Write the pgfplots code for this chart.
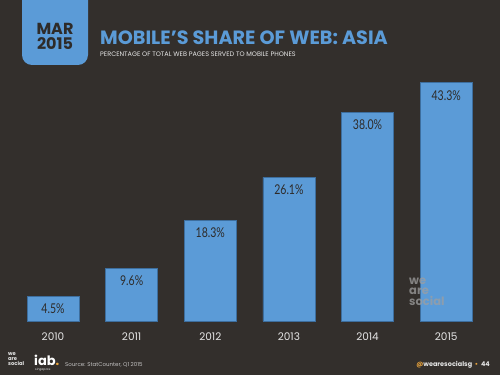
\documentclass[border=0pt]{standalone}
\usepackage{pgfplots}
\pgfplotsset{compat=1.18}
\usepackage{fontspec}
\setmainfont{Poppins}
\newfontfamily\cond[FakeStretch=0.78]{Lato}
\definecolor{bg}{HTML}{332F2C}
\definecolor{barblue}{HTML}{5B9BD7}
\definecolor{edge}{HTML}{3D6E9E}
\definecolor{ink}{HTML}{2E2B29}
\definecolor{orng}{HTML}{E8A33C}
\definecolor{lt}{HTML}{E6E6E6}
\begin{document}
\begin{tikzpicture}
\useasboundingbox (0,0) rectangle (500pt,375pt);
\fill[bg] (0,0) rectangle (500pt,375pt);
\fill[barblue,rounded corners=10pt] (22pt,395pt) rectangle (88pt,310pt);
\node[text=ink, font=\bfseries\fontsize{16}{15}\selectfont, align=center, inner sep=0] at (55pt,338.5pt) {MAR\\2015};
\node[anchor=base west, text=barblue, font=\bfseries\fontsize{19.2}{20}\selectfont, inner sep=0] at (100pt,330pt) {MOBILE’S SHARE OF WEB: ASIA};
\node[anchor=base west, text=lt, font=\fontsize{6.5}{7}\selectfont, inner sep=0] at (100pt,318.5pt) {PERCENTAGE OF TOTAL WEB PAGES SERVED TO MOBILE PHONES};
\begin{axis}[at={(13.7pt,54pt)}, anchor=south west, scale only axis,
  width=471.8pt, height=275pt,
  xmin=-0.5, xmax=5.5, ymin=0, ymax=50,
  axis line style={draw=none}, major tick length=0pt,
  ymajorticks=false, xtick=data,
  xticklabels={2010,2011,2012,2013,2014,2015},
  xticklabel style={text=lt, font=\fontsize{10.5}{12}\selectfont, yshift=-8.5pt},
  ybar, bar width=52pt,
  /pgf/number format/assume math mode=true,
  nodes near coords={\pgfmathprintnumber[fixed,fixed zerofill,precision=1]{\pgfplotspointmeta}\%},
  every node near coord/.append style={anchor=north, yshift=-4pt, text=ink, font=\cond\fontsize{13.5}{14}\selectfont},
]
\addplot[fill=barblue, draw=edge, line width=0.8pt] coordinates {(0,4.5) (1,9.6) (2,18.3) (3,26.1) (4,38.0) (5,43.3)};
\end{axis}
\node[anchor=north west, text=gray!75, opacity=0.75, font=\bfseries\fontsize{11.5}{10.2}\selectfont, align=left, inner sep=0] at (409pt,97pt) {we\\are\\social};
\node[anchor=north west, text=lt, font=\bfseries\fontsize{5.2}{5.3}\selectfont, align=left, inner sep=0] at (8pt,23pt) {we\\are\\social};
\node[anchor=base west, text=white, font=\bfseries\fontsize{13}{13}\selectfont, inner sep=0] at (34pt,10pt) {iab{\color{orng}.}};
\node[anchor=base west, text=lt, font=\fontsize{3}{3}\selectfont, inner sep=0] at (35pt,5pt) {singapore};
\node[anchor=base west, text=lt!80!bg, font=\fontsize{5.5}{6}\selectfont, inner sep=0] at (65pt,9pt) {Source: StatCounter, Q1 2015};
\node[anchor=base east, text=lt, font=\bfseries\fontsize{6.5}{7}\selectfont, inner sep=0] at (490pt,9pt) {{\color{orng}@}wearesocialsg\ \ {\color{orng}•}\ \ 44};
\end{tikzpicture}
\end{document}
